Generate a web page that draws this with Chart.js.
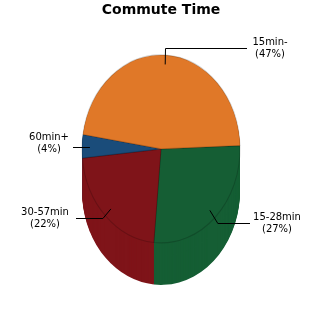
<!DOCTYPE html>
<html>
<head>
<meta charset="utf-8">
<script src="https://cdn.jsdelivr.net/npm/chart.js@4"></script>
<style>
  html, body { margin: 0; padding: 0; background: #fff; }
  #wrap { width: 325px; height: 325px; }
</style>
</head>
<body>
<div id="wrap"><canvas id="pie"></canvas></div>
<script>
const categories = ['15-28min', '30-57min', '60min+', '15min-'];
const shares = [27, 22, 4, 47];
const colors = ['#155e34', '#7f1419', '#1a4c7a', '#e07828'];

// how the top face is tilted and how thick the pie looks
const tilt = 1.19;
const depth = 42;

// where each callout text sits
const callouts = [
  { textX: 277, textY: 217, lineY: 223, endX: 250, bend: 'diag', dx: 8 },
  { textX: 45, textY: 212, lineY: 218, endX: 76, bend: 'diag', dx: -8 },
  { textX: 49, textY: 137, lineY: null, endX: 73, bend: 'none', dx: 0 },
  { textX: 270, textY: 42, lineY: 48, endX: 247, bend: 'vert', dx: 0 },
];

function tiltAround(ctx, cx, cy) {
  ctx.translate(cx, cy);
  ctx.scale(1, tilt);
  ctx.translate(-cx, -cy);
}

const pie3d = {
  id: 'pie3d',
  beforeDatasetsDraw(chart) {
    const ctx = chart.ctx;
    const arcs = chart.getDatasetMeta(0).data;
    const cx = arcs[0].x, cy = arcs[0].y;

    // side wall: stack the slices downwards
    for (let d = depth; d > 0; d--) {
      ctx.save();
      ctx.translate(0, d);
      tiltAround(ctx, cx, cy);
      arcs.forEach((a, i) => {
        ctx.beginPath();
        ctx.moveTo(cx, cy);
        ctx.arc(cx, cy, a.outerRadius, a.startAngle, a.endAngle);
        ctx.closePath();
        ctx.fillStyle = colors[i];
        ctx.fill();
      });
      ctx.restore();
    }

    ctx.save();
    tiltAround(ctx, cx, cy);
  },
  afterDatasetsDraw(chart) {
    chart.ctx.restore();
  },
  afterDraw(chart) {
    const ctx = chart.ctx;
    const arcs = chart.getDatasetMeta(0).data;
    const cx = arcs[0].x, cy = arcs[0].y;
    ctx.save();
    ctx.strokeStyle = '#000';
    ctx.lineWidth = 1;
    ctx.fillStyle = '#000';
    ctx.font = '10px "DejaVu Sans"';
    ctx.textAlign = 'center';
    ctx.textBaseline = 'middle';
    arcs.forEach((a, i) => {
      const c = callouts[i];
      const mid = (a.startAngle + a.endAngle) / 2;
      const r = a.outerRadius * 0.9;
      const ax = cx + r * Math.cos(mid);
      const ay = cy + r * Math.sin(mid) * tilt;
      const lineY = c.lineY === null ? Math.round(ay) + 0.5 : c.lineY + 0.5;

      ctx.beginPath();
      ctx.moveTo(ax, ay);
      if (c.bend === 'diag') ctx.lineTo(ax + c.dx, lineY);
      if (c.bend === 'vert') ctx.lineTo(Math.round(ax) + 0.5, lineY);
      if (c.bend === 'none') ctx.moveTo(ax, lineY);
      ctx.lineTo(c.endX, lineY);
      ctx.stroke();

      ctx.fillText(categories[i], c.textX, c.textY);
      ctx.fillText('(' + shares[i] + '%)', c.textX, c.textY + 12);
    });
    ctx.restore();
  }
};

const chart = new Chart(document.getElementById('pie'), {
  type: 'pie',
  data: {
    labels: categories,
    datasets: [{
      data: shares,
      backgroundColor: colors,
      borderColor: 'rgba(0,0,0,0.18)',
      borderWidth: 1,
      radius: 79,
    }],
  },
  options: {
    responsive: true,
    maintainAspectRatio: false,
    animation: false,
    events: [],
    rotation: 88,
    layout: { padding: { left: 82, right: 85, top: 0, bottom: 46 } },
    plugins: {
      legend: { display: false },
      tooltip: { enabled: false },
      title: {
        display: true,
        text: 'Commute Time',
        color: '#000',
        font: { family: '"DejaVu Sans"', size: 14, weight: 'bold' },
        padding: { top: 2, bottom: 0 },
      },
    },
  },
  plugins: [pie3d],
});
</script>
</body>
</html>
